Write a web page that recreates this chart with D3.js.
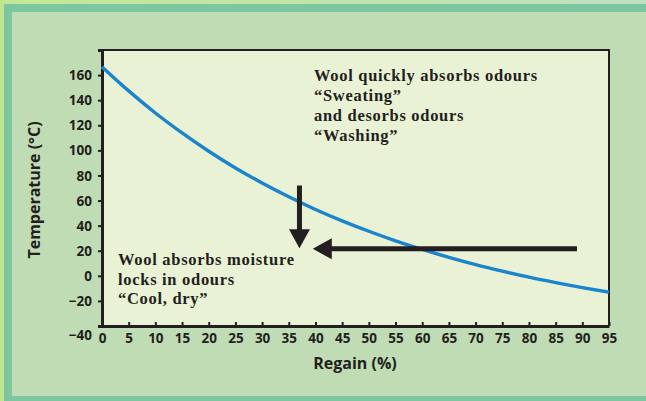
<!DOCTYPE html>
<html>
<head>
<meta charset="utf-8">
<script src="https://cdn.jsdelivr.net/npm/d3@7"></script>
<style>
  html, body { margin: 0; padding: 0; background: #c0dcb5; }
  svg { display: block; }
</style>
</head>
<body>
<svg id="chart" width="646" height="401"></svg>
<script>
// ---- data ----
const regain = [0, 5, 10, 15, 20, 25, 30, 35, 40, 45, 50, 55, 60, 65, 70, 75, 80, 85, 90, 95];
const temperature = [166.6, 147.4, 129.8, 113.9, 99.3, 86.0, 74.0, 63.0, 52.9, 43.8, 35.5, 27.9, 21.0, 14.7, 8.9, 3.7, -1.1, -5.4, -9.4, -13.0];
const xTicks = [0, 5, 10, 15, 20, 25, 30, 35, 40, 45, 50, 55, 60, 65, 70, 75, 80, 85, 90, 95];
const yTicks = [-40, -20, 0, 20, 40, 60, 80, 100, 120, 140, 160];
const noteTop = ["Wool quickly absorbs odours", "\u201CSweating\u201D", "and desorbs odours", "\u201CWashing\u201D"];
const noteBottom = ["Wool absorbs moisture", "locks in odours", "\u201CCool, dry\u201D"];
// arrows in data units: [x1, y1, x2(tip), y2(tip)]
const arrowDown = [37, 72, 37, 22];
const arrowLeft = [89, 21.5, 39.5, 21.5];

const svg = d3.select("#chart");
const W = 646, H = 401;

// ---- frame background ----
const defs = svg.append("defs");
const grad = defs.append("linearGradient").attr("id", "topg").attr("x1", 0).attr("x2", 1);
grad.append("stop").attr("offset", 0).attr("stop-color", "#c3e894");
grad.append("stop").attr("offset", 1).attr("stop-color", "#bfe0c0");
svg.append("rect").attr("x", 0).attr("y", 0).attr("width", W).attr("height", H).attr("fill", "url(#topg)");
svg.append("rect").attr("x", 0).attr("y", 0).attr("width", 4).attr("height", H).attr("fill", "#bfe68f");
svg.append("rect").attr("x", 4).attr("y", 4).attr("width", W - 4).attr("height", H - 4).attr("fill", "#7dc6a0");
svg.append("rect").attr("x", 12).attr("y", 12).attr("width", W - 12).attr("height", 396 - 12).attr("fill", "#c0dcb5");

// ---- scales ----
const x = d3.scaleLinear().domain([0, 95]).range([102, 609]);
const y = d3.scaleLinear().domain([-40, 180]).range([326, 50]);

// plot background
svg.append("rect")
  .attr("x", x(0)).attr("y", y(180))
  .attr("width", x(95) - x(0)).attr("height", y(-40) - y(180))
  .attr("fill", "#eaf2d5");

// top & right border
svg.append("path")
  .attr("d", `M${x(0)},${y(180)}H${x(95)}V${y(-40)}`)
  .attr("fill", "none").attr("stroke", "#231f20").attr("stroke-width", 2);

const tickFont = "'Open Sans', 'DejaVu Sans', sans-serif";

// ---- y axis ----
const yAxis = svg.append("g")
  .attr("transform", `translate(${x(0)},0)`)
  .call(d3.axisLeft(y).tickValues(yTicks).tickSize(4).tickSizeOuter(4).tickPadding(6));
yAxis.select(".domain").attr("stroke", "#231f20").attr("stroke-width", 3);
yAxis.selectAll(".tick line").attr("stroke", "#231f20").attr("stroke-width", 2);
yAxis.selectAll(".tick text")
  .attr("fill", "#231f20").style("font-family", tickFont).style("font-weight", 700).style("font-size", "13.5px")
  .attr("dy", d => d === -40 ? "1.0em" : "0.34em");

// ---- x axis ----
const xAxis = svg.append("g")
  .attr("transform", `translate(0,${y(-40)})`)
  .call(d3.axisBottom(x).tickValues(xTicks).tickSize(-4).tickSizeOuter(0).tickPadding(7));
xAxis.select(".domain").attr("stroke", "#231f20").attr("stroke-width", 3);
xAxis.selectAll(".tick line").attr("stroke", "#231f20").attr("stroke-width", 2);
xAxis.selectAll(".tick text")
  .attr("fill", "#231f20").style("font-family", tickFont).style("font-weight", 700).style("font-size", "13.5px");

// ---- axis titles ----
svg.append("text")
  .attr("x", 355).attr("y", 369)
  .attr("text-anchor", "middle")
  .attr("fill", "#231f20")
  .style("font-family", tickFont).style("font-weight", 700).style("font-size", "16px")
  .text("Regain (%)");
svg.append("text")
  .attr("transform", "translate(40,190) rotate(-90)")
  .attr("text-anchor", "middle")
  .attr("fill", "#231f20")
  .style("font-family", tickFont).style("font-weight", 700).style("font-size", "16px")
  .text("Temperature (\u00B0C)");

// ---- curve ----
const line = d3.line().x((d, i) => x(regain[i])).y(d => y(d)).curve(d3.curveMonotoneX);
svg.append("path")
  .datum(temperature)
  .attr("d", line)
  .attr("fill", "none")
  .attr("stroke", "#1a84cc")
  .attr("stroke-width", 3.4);

// ---- arrows ----
function arrow(a) {
  const x1 = x(a[0]), y1 = y(a[1]), x2 = x(a[2]), y2 = y(a[3]);
  const ang = Math.atan2(y2 - y1, x2 - x1);
  const hl = 19, hw = 10.5;
  const bx = x2 - hl * Math.cos(ang), by = y2 - hl * Math.sin(ang);
  svg.append("line")
    .attr("x1", x1).attr("y1", y1).attr("x2", bx + 2 * Math.cos(ang)).attr("y2", by + 2 * Math.sin(ang))
    .attr("stroke", "#231f20").attr("stroke-width", 5);
  const px = -Math.sin(ang), py = Math.cos(ang);
  svg.append("path")
    .attr("d", `M${x2},${y2}L${bx + px * hw},${by + py * hw}L${bx - px * hw},${by - py * hw}Z`)
    .attr("fill", "#231f20");
}
arrow(arrowDown);
arrow(arrowLeft);

// ---- notes ----
const noteFont = "'Liberation Serif', 'DejaVu Serif', serif";
const t1 = svg.append("text").attr("fill", "#231f20")
  .style("font-family", noteFont).style("font-weight", 700).style("font-size", "16.5px")
  .style("letter-spacing", "0.7px");
noteTop.forEach((s, i) => t1.append("tspan").attr("x", 314).attr("y", 81 + i * 20).text(s));
const t2 = svg.append("text").attr("fill", "#231f20")
  .style("font-family", noteFont).style("font-weight", 700).style("font-size", "16.5px")
  .style("letter-spacing", "0.7px");
noteBottom.forEach((s, i) => t2.append("tspan").attr("x", 118).attr("y", 265 + i * 19.5).text(s));
</script>
</body>
</html>
